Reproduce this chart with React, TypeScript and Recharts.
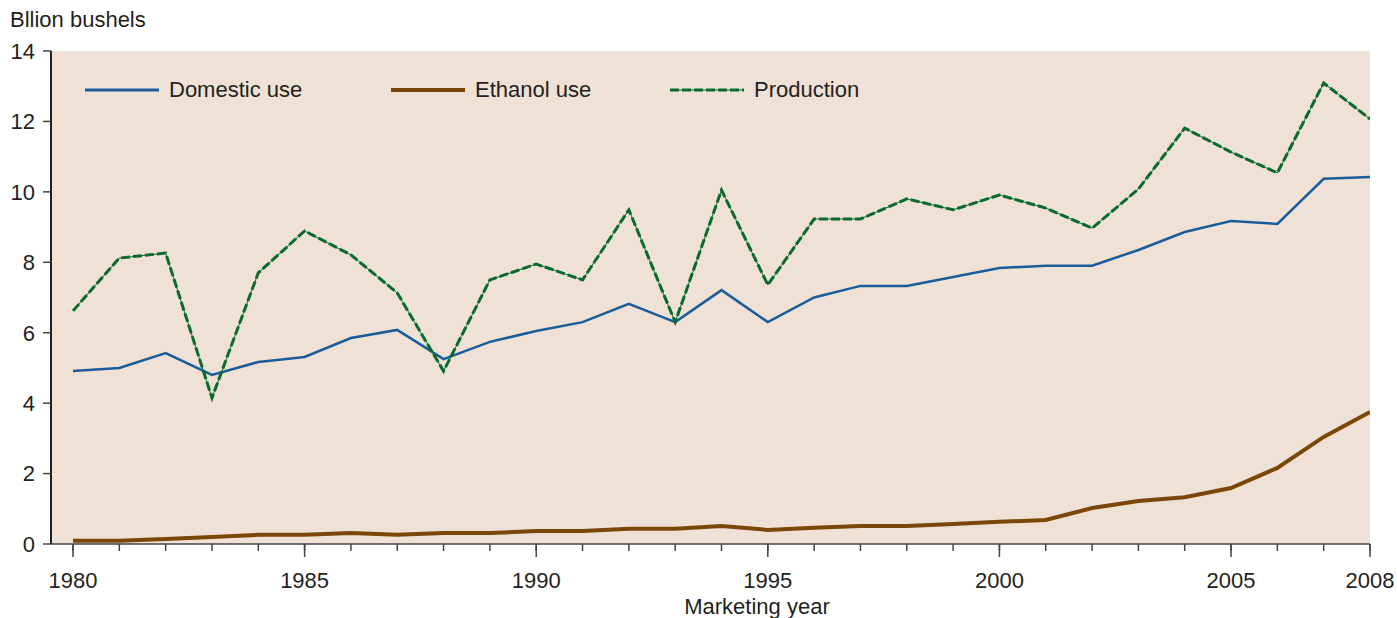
import React from 'react';
import { LineChart, Line, XAxis, YAxis, CartesianGrid } from 'recharts';

// Marketing years and series values (billion bushels)
const years = [
  1980, 1981, 1982, 1983, 1984, 1985, 1986, 1987, 1988, 1989,
  1990, 1991, 1992, 1993, 1994, 1995, 1996, 1997, 1998, 1999,
  2000, 2001, 2002, 2003, 2004, 2005, 2006, 2007, 2008,
];
const domesticUse = [
  4.91, 5.0, 5.42, 4.8, 5.17, 5.31, 5.85, 6.08, 5.25, 5.74,
  6.05, 6.3, 6.82, 6.3, 7.21, 6.3, 7.0, 7.33, 7.33, 7.58,
  7.84, 7.9, 7.9, 8.35, 8.86, 9.17, 9.09, 10.37, 10.42,
];
const ethanolUse = [
  0.09, 0.09, 0.14, 0.2, 0.26, 0.26, 0.31, 0.26, 0.31, 0.31,
  0.37, 0.37, 0.43, 0.43, 0.51, 0.4, 0.46, 0.51, 0.51, 0.57,
  0.63, 0.68, 1.02, 1.22, 1.33, 1.59, 2.16, 3.04, 3.75,
];
const production = [
  6.62, 8.12, 8.26, 4.15, 7.7, 8.89, 8.21, 7.13, 4.91, 7.5,
  7.95, 7.5, 9.49, 6.3, 10.05, 7.36, 9.23, 9.23, 9.8, 9.49,
  9.91, 9.54, 8.97, 10.08, 11.81, 11.13, 10.54, 13.09, 12.07,
];
const yTicks = [0, 2, 4, 6, 8, 10, 12, 14];
const labeledYears = [1980, 1985, 1990, 1995, 2000, 2005, 2008];

const BLUE = '#1a5c9a';
const BROWN = '#7a4708';
const GREEN = '#0a6a2c';
const BG = '#efe1d5';
const TEXT = '#231f20';
const FONT = 'Arial, "Liberation Sans", Helvetica, sans-serif';
const FS = 22;

const chartData = years.map((year, i) => ({
  year,
  domestic: domesticUse[i],
  ethanol: ethanolUse[i],
  production: production[i],
}));

const X_TICK_SIZE = 7;
const X_TICK_MARGIN = 2;

function YearTick(props: any) {
  const { x, y, payload } = props;
  const axisY = y - X_TICK_SIZE - X_TICK_MARGIN;
  const major = labeledYears.includes(payload.value);
  return (
    <g>
      {major && (
        <line x1={x} x2={x} y1={axisY} y2={axisY + 13} stroke="#444" strokeWidth={1.5} />
      )}
      {major && (
        <text x={x} y={axisY + 44} textAnchor="middle" fill={TEXT} fontSize={FS} fontFamily={FONT}>
          {payload.value}
        </text>
      )}
    </g>
  );
}

function ValueTick(props: any) {
  const { x, y, payload } = props;
  return (
    <text x={x} y={y} dy="0.36em" textAnchor="end" fill={TEXT} fontSize={FS} fontFamily={FONT}>
      {payload.value}
    </text>
  );
}

function Swatch({ color, width, dashed }: { color: string; width: number; dashed?: boolean }) {
  return (
    <svg width={74} height={8} style={{ display: 'block' }}>
      {dashed && <line x1={0} x2={74} y1={4} y2={4} stroke={color} strokeWidth={1} />}
      <line
        x1={0}
        x2={74}
        y1={4}
        y2={4}
        stroke={color}
        strokeWidth={width}
        strokeDasharray={dashed ? '9 3' : undefined}
      />
    </svg>
  );
}

function ChartLegend() {
  const items = [
    { label: 'Domestic use', color: BLUE, width: 3, w: 306 },
    { label: 'Ethanol use', color: BROWN, width: 4, w: 279 },
    { label: 'Production', color: GREEN, width: 3, w: 200, dashed: true },
  ];
  return (
    <div
      style={{
        position: 'absolute',
        left: 85,
        top: 76,
        height: 28,
        display: 'flex',
        fontFamily: FONT,
        fontSize: FS,
        color: TEXT,
      }}
    >
      {items.map((it) => (
        <div key={it.label} style={{ width: it.w, display: 'flex', alignItems: 'center', gap: 10 }}>
          <Swatch color={it.color} width={it.width} dashed={it.dashed} />
          <span>{it.label}</span>
        </div>
      ))}
    </div>
  );
}

export default function App() {
  return (
    <div style={{ position: 'absolute', left: 0, top: 0, width: 1397, height: 618, background: '#fff', overflow: 'hidden' }}>
      <div style={{ position: 'absolute', left: 10, top: 7, fontFamily: FONT, fontSize: FS, color: TEXT }}>
        Bllion bushels
      </div>
      <LineChart
        width={1397}
        height={618}
        data={chartData}
        margin={{ top: 51, right: 27, left: 0, bottom: 0 }}
      >
        <CartesianGrid fill={BG} horizontal={false} vertical={false} />
        <XAxis
          dataKey="year"
          type="number"
          domain={[1979.525, 2008]}
          ticks={years}
          interval={0}
          allowDataOverflow
          height={74}
          axisLine={{ stroke: '#444', strokeWidth: 1.5 }}
          tickLine={{ stroke: '#444', strokeWidth: 1.5 }}
          tickSize={X_TICK_SIZE}
          tickMargin={X_TICK_MARGIN}
          tick={<YearTick />}
        />
        <YAxis
          domain={[0, 14]}
          ticks={yTicks}
          interval={0}
          width={51}
          axisLine={{ stroke: TEXT, strokeWidth: 2 }}
          tickLine={{ stroke: '#444', strokeWidth: 1.5 }}
          tickSize={8}
          tickMargin={8}
          tick={<ValueTick />}
        />
        <Line dataKey="domestic" stroke={BLUE} strokeWidth={2.5} dot={false} isAnimationActive={false} />
        <Line dataKey="ethanol" stroke={BROWN} strokeWidth={4} dot={false} isAnimationActive={false} />
        <Line dataKey="production" stroke={GREEN} strokeWidth={1} dot={false} isAnimationActive={false} />
        <Line
          dataKey="production"
          stroke={GREEN}
          strokeWidth={3}
          strokeDasharray="9 3"
          dot={false}
          isAnimationActive={false}
        />
      </LineChart>
      <ChartLegend />
      <div
        style={{
          position: 'absolute',
          left: 0,
          width: 1514,
          top: 594,
          textAlign: 'center',
          fontFamily: FONT,
          fontSize: FS,
          color: TEXT,
        }}
      >
        Marketing year
      </div>
    </div>
  );
}
